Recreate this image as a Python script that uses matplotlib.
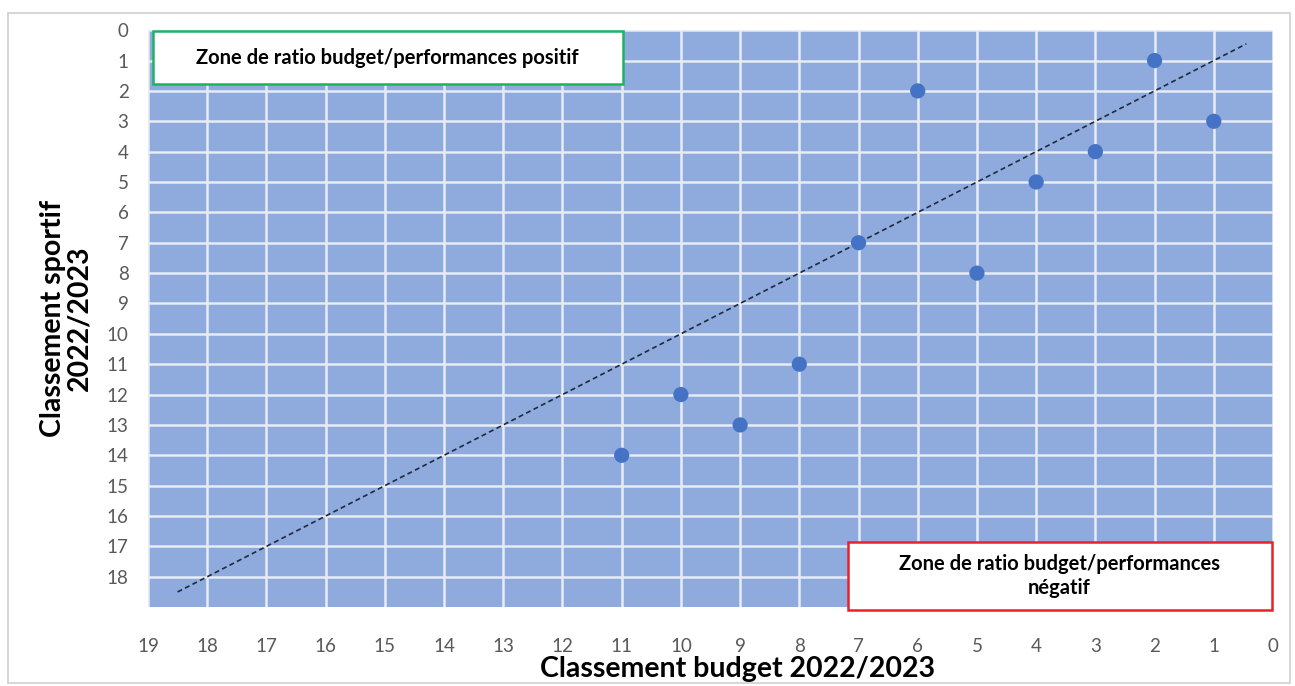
import matplotlib.pyplot as plt
from matplotlib.patches import Rectangle

# budget rank (x) vs sporting rank (y)
budget_rank = [6, 2, 1, 3, 4, 7, 5, 8, 10, 9, 11]
sport_rank = [2, 1, 3, 4, 5, 7, 8, 11, 12, 13, 14]
diag_x = [18.5, 0.45]
diag_y = [18.5, 0.45]
x_ticks = list(range(0, 20))
y_ticks = list(range(0, 19))

plt.rcParams['font.family'] = ['Lato', 'DejaVu Sans']

fig = plt.figure(figsize=(12.95, 6.86), dpi=100)
ax = fig.add_axes([0.1143, 0.115, 0.8687, 0.841])
ax.set_facecolor('#8FAADC')

# light frame around the whole chart
fig.patches.append(Rectangle((0.006, 0.005), 0.99, 0.976, transform=fig.transFigure,
                             fill=False, edgecolor='#D0D0D0', linewidth=1.2))

ax.plot(diag_x, diag_y, linestyle='--', color='#1F2A3C', linewidth=1.2, dashes=(3, 2), zorder=3)
ax.scatter(budget_rank, sport_rank, s=120, color='#4472C4', zorder=4, edgecolors='none')

ax.set_xlim(19, 0)
ax.set_ylim(19, 0)
ax.set_xticks(x_ticks)
ax.set_yticks(y_ticks)
ax.grid(True, color='#E8ECF4', linewidth=1.8, zorder=1)
ax.set_axisbelow(True)
ax.tick_params(length=0, labelsize=13.5, labelcolor='#595959')
ax.tick_params(axis='x', pad=22)
ax.tick_params(axis='y', pad=14)
for s in ax.spines.values():
    s.set_visible(False)

ax.set_xlabel('Classement budget 2022/2023', fontsize=20.5, fontweight='bold', labelpad=-2)
ax.xaxis.set_label_coords(0.524, -0.085)
ax.set_ylabel('Classement sportif\n2022/2023', fontsize=20.5, fontweight='bold', labelpad=10,
              linespacing=1.05)

# annotation boxes
ax.add_patch(Rectangle((0.004, 0.906), 0.418, 0.092, transform=ax.transAxes, facecolor='white',
                       edgecolor='#1DB264', linewidth=1.8, zorder=5, clip_on=False))
ax.text(0.213, 0.952, 'Zone de ratio budget/performances positif', transform=ax.transAxes,
        ha='center', va='center', fontsize=14.5, fontweight='bold', zorder=6)
ax.add_patch(Rectangle((0.622, -0.005), 0.377, 0.118, transform=ax.transAxes, facecolor='white',
                       edgecolor='#E8212B', linewidth=1.8, zorder=5, clip_on=False))
ax.text(0.81, 0.054, 'Zone de ratio budget/performances\nnégatif', transform=ax.transAxes,
        ha='center', va='center', fontsize=14.5, fontweight='bold', zorder=6, linespacing=1.3)

fig.savefig('out.png', dpi=100)
